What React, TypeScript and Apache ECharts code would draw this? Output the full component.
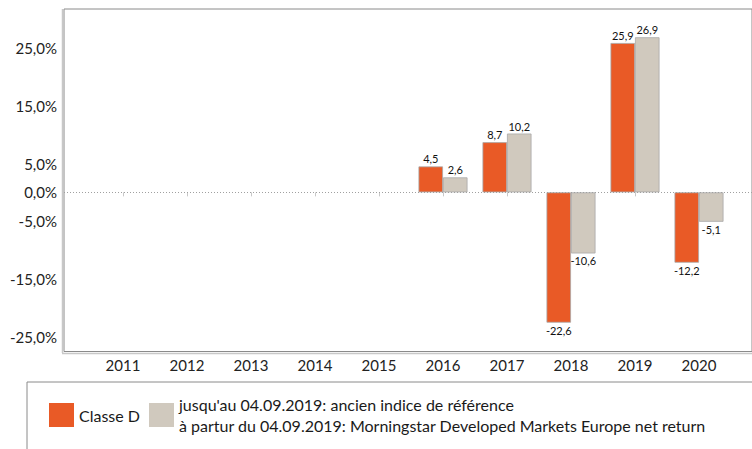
import React, { useEffect, useRef } from "react";
import * as echarts from "echarts";

const years = ["2011", "2012", "2013", "2014", "2015", "2016", "2017", "2018", "2019", "2020"];
const classeD: (number | null)[] = [null, null, null, null, null, 4.5, 8.7, -22.6, 25.9, -12.2];
const indice: (number | null)[] = [null, null, null, null, null, 2.6, 10.2, -10.6, 26.9, -5.1];
const yTickValues = [25, 15, 5, 0, -5, -15, -25];
const seriesNames = [
  "Classe D",
  "jusqu'au 04.09.2019: ancien indice de référence\nà partur du 04.09.2019: Morningstar Developed Markets Europe net return",
];

const FONT = 'Lato, "Open Sans", "DejaVu Sans", sans-serif';
const Y_MIN = -27.6;
const Y_MAX = 31.8;

function toItems(vals: (number | null)[]) {
  return vals.map((v) =>
    v == null
      ? null
      : { value: v, label: { position: v < 0 ? "bottom" : "top" } }
  );
}

export default function App() {
  const ref = useRef<HTMLDivElement>(null);
  useEffect(() => {
    if (!ref.current) return;
    const chart = echarts.init(ref.current, undefined, { renderer: "svg" });
    const barLabel = {
      show: true,
      fontSize: 11,
      fontFamily: FONT,
      color: "#111",
      distance: 2,
      formatter: (p: any) => String(p.value).replace(".", ","),
    };
    chart.setOption({
      animation: false,
      backgroundColor: "#ffffff",
      textStyle: { fontFamily: FONT },
      grid: [
        {
          left: 64,
          right: -2,
          top: 9,
          bottom: 97.5,
          show: true,
          borderColor: "#8a8a8a",
          borderWidth: 1,
          backgroundColor: "transparent",
        },
        { left: 91, right: 21, top: 9, bottom: 97.5 },
      ],
      xAxis: [
        { type: "value", gridIndex: 0, min: 0, max: 1, show: false },
        {
          type: "category",
          gridIndex: 1,
          data: years,
          axisLine: { show: false },
          axisTick: { show: true, alignWithLabel: true, length: 4, lineStyle: { color: "#c8c8c8" } },
          axisLabel: { fontSize: 15, color: "#222", fontFamily: FONT, margin: 6 },
          splitLine: { show: false },
        },
      ],
      yAxis: [
        {
          type: "value",
          gridIndex: 0,
          min: Y_MIN,
          max: Y_MAX,
          axisLine: { show: false },
          axisTick: { show: false },
          splitLine: { show: false },
          axisLabel: {
            customValues: yTickValues,
            fontSize: 15,
            color: "#222",
            fontFamily: FONT,
            margin: 7,
            formatter: (v: number) => v.toFixed(1).replace(".", ",") + "%",
          },
        },
        { type: "value", gridIndex: 1, min: Y_MIN, max: Y_MAX, show: false },
      ],
      legend: {
        left: 44,
        top: 389,
        itemWidth: 25,
        itemHeight: 24,
        itemGap: 9,
        icon: "rect",
        data: seriesNames,
        itemStyle: { borderWidth: 0 },
        textStyle: { fontSize: 16, color: "#1a1a1a", fontFamily: FONT, lineHeight: 21 },
      },
      graphic: [
        {
          type: "rect",
          shape: { x: 27, y: 382, width: 760, height: 120 },
          style: { fill: "none", stroke: "#8a8a8a", lineWidth: 1 },
          silent: true,
        },
        {
          type: "line",
          shape: { x1: 62.5, y1: 9, x2: 62.5, y2: 353 },
          style: { stroke: "#c8c8c8", lineWidth: 1.5 },
          silent: true,
        },
        {
          type: "line",
          shape: { x1: 62, y1: 353.5, x2: 760, y2: 353.5 },
          style: { stroke: "#c8c8c8", lineWidth: 1.5 },
          silent: true,
        },
      ],
      series: [
        {
          type: "line",
          xAxisIndex: 0,
          yAxisIndex: 0,
          data: [],
          silent: true,
          markLine: {
            silent: true,
            symbol: "none",
            label: { show: false },
            lineStyle: { color: "#a0a0a0", type: [1, 2], width: 1 },
            data: [{ yAxis: 0 }],
          },
        },
        {
          name: seriesNames[0],
          type: "bar",
          xAxisIndex: 1,
          yAxisIndex: 1,
          barWidth: 24.5,
          barGap: "0%",
          data: toItems(classeD),
          itemStyle: { color: "#E95A26", borderColor: "#a8a8a8", borderWidth: 0.8 },
          label: barLabel,
        },
        {
          name: seriesNames[1],
          type: "bar",
          xAxisIndex: 1,
          yAxisIndex: 1,
          barWidth: 24.5,
          barGap: "0%",
          data: toItems(indice),
          itemStyle: { color: "#D0C9BE", borderColor: "#a8a8a8", borderWidth: 0.8 },
          label: barLabel,
        },
      ],
    });
    return () => chart.dispose();
  }, []);
  return (
    <div
      ref={ref}
      style={{ position: "fixed", left: 0, top: 0, width: 752, height: 449 }}
    />
  );
}
